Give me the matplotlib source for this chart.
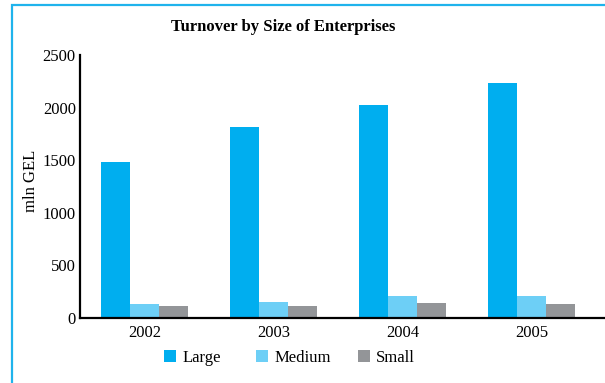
import matplotlib
matplotlib.use("Agg")
import matplotlib.pyplot as plt
import numpy as np
from matplotlib.patches import Rectangle, Patch

years = ["2002", "2003", "2004", "2005"]
series_names = ["Large", "Medium", "Small"]
large = [1480, 1818, 2025, 2234]
medium = [136, 155, 212, 212]
small = [117, 117, 145, 136]
yticks = [0, 500, 1000, 1500, 2000, 2500]
colors = ["#00AEEF", "#6DCFF6", "#939598"]

plt.rcParams["font.family"] = ["Liberation Serif", "DejaVu Serif"]

W, H = 605, 383
fig = plt.figure(figsize=(W / 100, H / 100), dpi=100)
ax = fig.add_axes([80 / W, 1 - 318 / H, 1 - 80 / W, (318 - 55) / H])

x = np.arange(len(years))
bw = 0.225
for i, (vals, c) in enumerate(zip([large, medium, small], colors)):
    ax.bar(x + (i - 1) * bw, vals, width=bw, color=c, linewidth=0)

ax.set_xlim(-0.5, 3.57)
ax.set_ylim(0, 2500)
ax.set_yticks(yticks)
ax.set_yticklabels([str(v) for v in yticks], fontsize=12)
ax.set_xticks(x)
ax.set_xticklabels(years, fontsize=12)
ax.tick_params(axis="both", length=0)
ax.tick_params(axis="y", pad=3)
ax.tick_params(axis="x", pad=5)
for s in ["top", "right"]:
    ax.spines[s].set_visible(False)
for s in ["left", "bottom"]:
    ax.spines[s].set_linewidth(1.6)
    ax.spines[s].set_color("black")
ax.set_ylabel("mln GEL", fontsize=12)
ax.yaxis.set_label_coords(-0.078, 0.52)

fig.text(283.5 / W, 1 - 27 / H, "Turnover by Size of Enterprises",
         ha="center", va="center", fontsize=12, fontweight="bold")

# legend entries placed individually along the bottom row
legend_x = [164, 256, 358]
for name, c, lx in zip(series_names, colors, legend_x):
    leg = fig.legend([Patch(facecolor=c, edgecolor="none")], [name],
                     loc="center left", bbox_to_anchor=(lx / W, 1 - 358 / H),
                     frameon=False, fontsize=12, handlelength=0.7, handleheight=0.7,
                     handletextpad=0.4, borderpad=0, borderaxespad=0)

fig.patches.append(Rectangle((12 / W, -0.2), 1.2, 1.2 - 5 / H,
                             transform=fig.transFigure, fill=False,
                             edgecolor="#1FB3EC", linewidth=1.6, clip_on=False))

fig.savefig("out.png", dpi=100)
